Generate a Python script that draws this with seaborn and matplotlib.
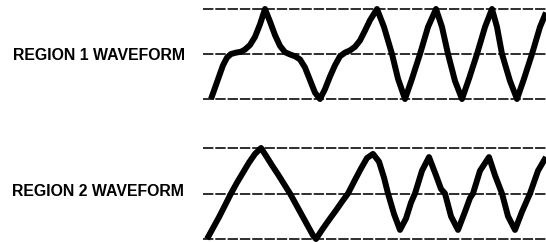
import numpy as np
import pandas as pd
import matplotlib
matplotlib.use("Agg")
import matplotlib.pyplot as plt
from matplotlib import font_manager as fm
import seaborn as sns

# ---------------- data ----------------
labels = ["REGION 1 WAVEFORM", "REGION 2 WAVEFORM"]

# time axis in arbitrary units (0 .. 343)
r1_t = [8, 12, 16, 20, 24, 28, 33, 38, 42, 47, 52, 57, 62, 67, 72, 77, 82, 87,
        92, 97, 102, 107, 112, 117, 122, 127, 132, 137, 142, 147, 152, 157, 162,
        167, 174, 181, 189, 195, 202, 209, 217, 225, 233, 239, 245, 252, 259,
        266, 274, 282, 289, 294, 299, 307, 314, 321, 329, 337, 343]
r1_v = [-1.0, -0.75, -0.5, -0.25, -0.08, 0.0, 0.03, 0.05, 0.1, 0.2, 0.38, 0.66,
        1.0, 0.72, 0.42, 0.18, 0.04, -0.01, -0.05, -0.12, -0.3, -0.58, -0.86,
        -1.0, -0.78, -0.5, -0.25, -0.05, 0.03, 0.08, 0.16, 0.3, 0.52, 0.75, 1.0,
        0.6, 0.0, -0.55, -1.0, -0.55, 0.0, 0.6, 1.0, 0.6, 0.0, -0.6, -1.0,
        -0.55, 0.0, 0.6, 1.0, 0.6, 0.0, -0.6, -1.0, -0.55, 0.0, 0.6, 0.92]

r2_t = [4, 10, 16, 22, 28, 34, 40, 46, 52, 58, 63, 69, 75, 81, 87, 93, 99, 105,
        110, 113, 119, 126, 133, 139, 145, 152, 158, 164, 170, 176, 181, 185,
        191, 197, 203, 208, 212, 219, 226, 233, 238, 242, 248, 255, 262, 267,
        270, 277, 286, 292, 299, 305, 312, 319, 327, 335, 343]
r2_v = [-1.0, -0.76, -0.52, -0.26, 0.0, 0.24, 0.46, 0.68, 0.87, 1.0, 0.83, 0.62,
        0.42, 0.21, 0.0, -0.24, -0.48, -0.72, -0.92, -1.0, -0.8, -0.58, -0.37,
        -0.18, 0.0, 0.3, 0.55, 0.78, 0.87, 0.7, 0.35, 0.0, -0.45, -0.8, -0.55,
        -0.2, 0.0, 0.5, 0.8, 0.4, 0.1, 0.0, -0.5, -0.8, -0.4, -0.1, 0.0, 0.5,
        0.8, 0.4, 0.0, -0.5, -0.8, -0.4, 0.0, 0.5, 0.8]

levels = [-1.0, 0.0, 1.0]

# ---------------- styling ----------------
sns.set_theme(style="white")
avail = {f.name for f in fm.fontManager.ttflist}
fam = None
for cand in ["Liberation Sans", "Arial", "DejaVu Sans"]:
    if cand in avail:
        fam = cand
        break
plt.rcParams["font.family"] = [fam, "DejaVu Sans"]

W, H = 546, 242
fig = plt.figure(figsize=(W / 100, H / 100), dpi=100)
fig.patch.set_facecolor("white")

x0 = 203 / W
ax1 = fig.add_axes([x0, (H - 104) / H, 1 - x0, 100 / H])
ax2 = fig.add_axes([x0, 0.0, 1 - x0, 99 / H])

df1 = pd.DataFrame({"t": r1_t, "v": r1_v})
df2 = pd.DataFrame({"t": r2_t, "v": r2_v})

for ax, df, ylim in [(ax1, df1, (-1.111, 1.111)), (ax2, df2, (-1.066, 1.11))]:
    for lv in levels:
        ax.axhline(lv, color="black", lw=1.15, linestyle=(0, (6.5, 1.2)), zorder=1)
    sns.lineplot(data=df, x="t", y="v", ax=ax, sort=False, estimator=None,
                 color="black", lw=4.3, zorder=3)
    for ln in ax.lines[-1:]:
        ln.set_solid_joinstyle("round")
        ln.set_solid_capstyle("butt")
    ax.set_xlim(0, 343)
    ax.set_ylim(*ylim)
    ax.set_axis_off()
    ax.set_facecolor("none")

fig.text(185 / W, 1 - 56 / H, labels[0], ha="right", va="center",
         fontsize=11.4, fontweight="bold", color="black")
fig.text(184 / W, 1 - 192 / H, labels[1], ha="right", va="center",
         fontsize=11.4, fontweight="bold", color="black")

fig.savefig("out.png", dpi=100, facecolor="white")
